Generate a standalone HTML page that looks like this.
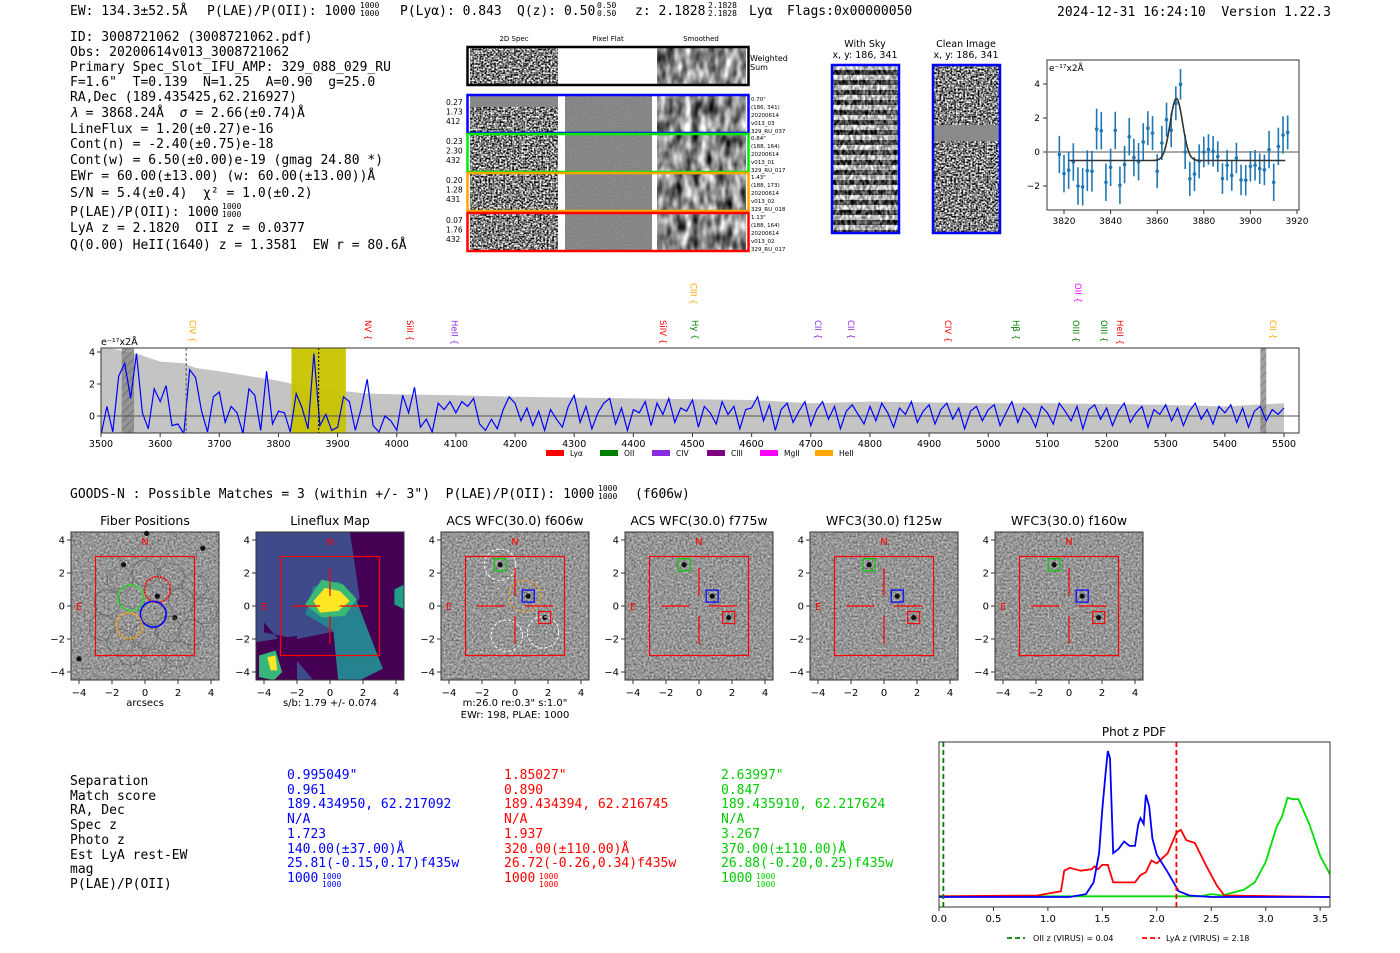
<!DOCTYPE html>
<html><head><meta charset="utf-8">
<style>
body{margin:0;background:#fff;}
#root{position:relative;width:1400px;height:953px;overflow:hidden;background:#fff;font-family:"DejaVu Sans Mono","Liberation Mono",monospace;color:#000;}
.t{position:absolute;white-space:pre;font-size:13px;line-height:13px;}
.fr{position:absolute;font-size:8px;line-height:8px;text-align:center;}
svg{position:absolute;left:0;top:0;}
filter{color-interpolation-filters:sRGB;}
</style></head>
<body>
<div id="root">
<svg id="svg" width="1400" height="953">
<defs>
<filter id="noiseHi" x="0" y="0" width="100%" height="100%" color-interpolation-filters="sRGB"><feTurbulence type="fractalNoise" baseFrequency="0.55" numOctaves="1" seed="3"/><feColorMatrix type="saturate" values="0"/><feComponentTransfer><feFuncR type="linear" slope="3.5" intercept="-1.25"/><feFuncG type="linear" slope="3.5" intercept="-1.25"/><feFuncB type="linear" slope="3.5" intercept="-1.25"/><feFuncA type="linear" slope="0" intercept="1"/></feComponentTransfer></filter>
<filter id="noiseSm" x="0" y="0" width="100%" height="100%" color-interpolation-filters="sRGB"><feTurbulence type="fractalNoise" baseFrequency="0.12 0.06" numOctaves="2" seed="7"/><feColorMatrix type="saturate" values="0"/><feComponentTransfer><feFuncR type="linear" slope="2.0" intercept="-0.45"/><feFuncG type="linear" slope="2.0" intercept="-0.45"/><feFuncB type="linear" slope="2.0" intercept="-0.45"/><feFuncA type="linear" slope="0" intercept="1"/></feComponentTransfer></filter>
<filter id="noiseFlat" x="0" y="0" width="100%" height="100%" color-interpolation-filters="sRGB"><feTurbulence type="fractalNoise" baseFrequency="0.9" numOctaves="1" seed="5"/><feColorMatrix type="saturate" values="0"/><feComponentTransfer><feFuncR type="linear" slope="0.3" intercept="0.38"/><feFuncG type="linear" slope="0.3" intercept="0.38"/><feFuncB type="linear" slope="0.3" intercept="0.38"/><feFuncA type="linear" slope="0" intercept="1"/></feComponentTransfer></filter>
<filter id="noiseSky" x="0" y="0" width="100%" height="100%" color-interpolation-filters="sRGB"><feTurbulence type="fractalNoise" baseFrequency="0.35 0.2" numOctaves="2" seed="11"/><feColorMatrix type="saturate" values="0"/><feComponentTransfer><feFuncR type="linear" slope="3" intercept="-1.0"/><feFuncG type="linear" slope="3" intercept="-1.0"/><feFuncB type="linear" slope="3" intercept="-1.0"/><feFuncA type="linear" slope="0" intercept="1"/></feComponentTransfer></filter>
<filter id="noiseCut" x="0" y="0" width="100%" height="100%" color-interpolation-filters="sRGB"><feTurbulence type="fractalNoise" baseFrequency="0.5" numOctaves="2" seed="2"/><feColorMatrix type="saturate" values="0"/><feComponentTransfer><feFuncR type="linear" slope="1.2" intercept="0.0"/><feFuncG type="linear" slope="1.2" intercept="0.0"/><feFuncB type="linear" slope="1.2" intercept="0.0"/><feFuncA type="linear" slope="0" intercept="1"/></feComponentTransfer></filter>
<pattern id="hatch" width="6" height="6" patternUnits="userSpaceOnUse" patternTransform="rotate(45)"><rect width="6" height="6" fill="#888"/><line x1="0" y1="0" x2="0" y2="6" stroke="#555" stroke-width="1.5"/></pattern>
<pattern id="stripes" width="10" height="10" patternUnits="userSpaceOnUse"><rect width="10" height="5" fill="#000"/><rect y="5" width="10" height="5" fill="#fff"/></pattern>
<clipPath id="specClip"><rect x="101" y="348" width="1198" height="85"/></clipPath>
<clipPath id="pdfClip"><rect x="939" y="742" width="391" height="165"/></clipPath>
</defs>

<g font-family="DejaVu Sans, Liberation Sans, sans-serif" font-size="7">
<text x="514" y="41" text-anchor="middle">2D Spec</text>
<text x="608" y="41" text-anchor="middle">Pixel Flat</text>
<text x="701" y="41" text-anchor="middle">Smoothed</text>
<rect x="470" y="48" width="88" height="36" filter="url(#noiseHi)"/>
<rect x="657" y="48" width="89" height="36" filter="url(#noiseSm)"/>
<rect x="467.5" y="47" width="281" height="38" fill="none" stroke="#000" stroke-width="2.5"/>
<text x="750" y="61" font-size="8">Weighted</text>
<text x="750" y="70" font-size="8">Sum</text>
</g>
<g id="specRows"></g>

<g font-family="DejaVu Sans, Liberation Sans, sans-serif" font-size="9.5">
<text x="865" y="47" text-anchor="middle">With Sky</text>
<text x="865" y="58" text-anchor="middle">x, y: 186, 341</text>
<rect x="832" y="65" width="67" height="168" filter="url(#noiseSky)"/>
<rect x="832" y="65" width="67" height="168" fill="url(#stripes)" fill-opacity="0.45"/>
<rect x="832" y="65" width="67" height="168" fill="none" stroke="#0000ff" stroke-width="2.5"/>
<text x="966" y="47" text-anchor="middle">Clean Image</text>
<text x="966" y="58" text-anchor="middle">x, y: 186, 341</text>
<rect x="933" y="65" width="67" height="168" filter="url(#noiseHi)"/>
<rect x="933" y="125" width="67" height="16" fill="#8a8a8a"/>
<rect x="933" y="65" width="67" height="168" fill="none" stroke="#0000ff" stroke-width="2.5"/>
</g>

<g id="fit"></g>
<g id="spec"></g>
<g id="cuts"></g>
<g id="pdf"></g>
</svg>

<div class="t" style="left:70px;top:5px">EW: 134.3±52.5Å</div>
<div class="t" style="left:207px;top:5px">P(LAE)/P(OII): 1000</div>
<div class="fr" style="left:360px;top:2px">1000<br>1000</div>
<div class="t" style="left:400px;top:5px">P(Lyα): 0.843</div>
<div class="t" style="left:517px;top:5px">Q(z): 0.50</div>
<div class="fr" style="left:597px;top:2px">0.50<br>0.50</div>
<div class="t" style="left:635px;top:5px">z: 2.1828</div>
<div class="fr" style="left:708px;top:2px">2.1828<br>2.1828</div>
<div class="t" style="left:749px;top:5px">Lyα</div>
<div class="t" style="left:787px;top:5px">Flags:0x00000050</div>
<div class="t" style="left:1057px;top:6px">2024-12-31 16:24:10  Version 1.22.3</div>

<div class="t" style="left:70px;top:31px">ID: 3008721062 (3008721062.pdf)</div>
<div class="t" style="left:70px;top:46px">Obs: 20200614v013_3008721062</div>
<div class="t" style="left:70px;top:61px">Primary Spec_Slot_IFU_AMP: 329_088_029_RU</div>
<div class="t" style="left:70px;top:76px">F=1.6"  T=0.139  N=1.25  A=0.90  g=25.0</div>
<div class="t" style="left:70px;top:91px">RA,Dec (189.435425,62.216927)</div>
<div class="t" style="left:70px;top:107px"><i>λ</i> = 3868.24Å  <i>σ</i> = 2.66(±0.74)Å</div>
<div class="t" style="left:70px;top:123px">LineFlux = 1.20(±0.27)e-16</div>
<div class="t" style="left:70px;top:138px">Cont(n) = -2.40(±0.75)e-18</div>
<div class="t" style="left:70px;top:154px">Cont(w) = 6.50(±0.00)e-19 (gmag 24.80 *)</div>
<div class="t" style="left:70px;top:170px">EWr = 60.00(±13.00) (w: 60.00(±13.00))Å</div>
<div class="t" style="left:70px;top:187px">S/N = 5.4(±0.4)  χ² = 1.0(±0.2)</div>
<div class="t" style="left:70px;top:206px">P(LAE)/P(OII): 1000</div>
<div class="fr" style="left:222px;top:203px">1000<br>1000</div>
<div class="t" style="left:70px;top:222px">LyA z = 2.1820  OII z = 0.0377</div>
<div class="t" style="left:70px;top:239px">Q(0.00) HeII(1640) z = 1.3581  EW r = 80.6Å</div>

<div class="t" style="left:70px;top:488px">GOODS-N : Possible Matches = 3 (within +/- 3")  P(LAE)/P(OII): 1000</div>
<div class="fr" style="left:598px;top:485px">1000<br>1000</div>
<div class="t" style="left:635px;top:488px">(f606w)</div>

<div class="t" style="left:70px;top:775px;line-height:14.7px">Separation
Match score
RA, Dec
Spec z
Photo z
Est LyA rest-EW
mag
P(LAE)/P(OII)</div>
<div class="t" style="left:287px;top:769px;line-height:14.7px;color:#0000ff">0.995049"
0.961
189.434950, 62.217092
N/A
1.723
140.00(±37.00)Å
25.81(-0.15,0.17)f435w
1000</div>
<div class="fr" style="left:322px;top:873px;color:#0000ff">1000<br>1000</div>
<div class="t" style="left:504px;top:769px;line-height:14.7px;color:#ff0000">1.85027"
0.890
189.434394, 62.216745
N/A
1.937
320.00(±110.00)Å
26.72(-0.26,0.34)f435w
1000</div>
<div class="fr" style="left:539px;top:873px;color:#ff0000">1000<br>1000</div>
<div class="t" style="left:721px;top:769px;line-height:14.7px;color:#00cc00">2.63997"
0.847
189.435910, 62.217624
N/A
3.267
370.00(±110.00)Å
26.88(-0.20,0.25)f435w
1000</div>
<div class="fr" style="left:756px;top:873px;color:#00cc00">1000<br>1000</div>
</div>

<script>
const fitWave = [3818,3820,3822,3824,3826,3828,3830,3832,3834,3836,3838,3840,3842,3844,3846,3848,3850,3852,3854,3856,3858,3860,3862,3864,3866,3868,3870,3872,3874,3876,3878,3880,3882,3884,3886,3888,3890,3892,3894,3896,3898,3900,3902,3904,3906,3908,3910,3912,3914,3916];
const fitFlux = [-0.15,-1.27,-1.07,-0.59,-2.0,-2.05,-1.1,-1.13,1.35,1.25,-1.78,-0.9,1.27,-1.95,-0.74,0.9,-0.33,-0.57,0.59,1.4,1.11,-1.13,0.53,1.9,1.29,2.87,3.98,0.0,-1.58,-1.3,-0.55,0.0,0.15,0.04,-0.27,-1.56,-0.78,-1.38,-0.35,-1.64,-1.66,-0.84,-0.78,-0.98,-1.05,0.14,-1.78,0.33,1.0,1.15];
const fitErr = [1.1,1.1,1.1,1.1,1.1,1.1,1.2,1.2,1.2,1.1,1.1,1.1,1.1,1.1,1.1,1.1,1.1,1.1,1.1,1.0,1.0,1.0,1.0,1.0,1.0,1.0,0.9,1.0,1.0,1.0,1.0,0.9,0.9,0.9,0.9,0.9,0.9,0.9,0.9,0.9,0.9,0.9,0.9,0.9,0.9,1.1,1.1,1.1,1.1,1.0];
const fitModel = {center:3868.24, sigma:2.66, amp:3.65, base:-0.5};
const fitXTicks = [3820,3840,3860,3880,3900,3920];
const fitYTicks = [-2,0,2,4];

const specWaveStart = 3500, specWaveStep = 10;
const specFlux = [-1.2,0.6,-1.0,2.5,3.3,1.1,3.9,0.2,-0.8,1.7,
0.9,1.9,-0.6,-0.5,-1.1,2.9,2.4,0.3,-1.0,1.2,
1.5,-0.4,0.6,0.2,-1.1,1.7,1.3,-0.9,2.8,-0.5,
0.3,0.2,-1.0,1.4,0.5,-0.8,3.9,-0.6,0.1,-0.9,
-0.7,1.2,0.9,-0.9,0.5,2.3,-0.6,-1.0,0.0,-0.3,
-0.9,1.3,0.2,1.8,-0.7,-0.2,-1.0,0.8,0.4,0.9,
0.2,0.9,0.6,1.1,-0.5,-0.9,-0.2,-0.8,0.4,1.2,
0.8,-0.3,0.5,-0.6,0.3,-0.9,0.4,-0.2,-0.7,0.6,
1.3,-0.4,0.6,-0.8,0.2,0.8,1.1,-0.5,0.5,-0.9,
0.4,0.2,0.9,-0.6,0.8,0.1,1.1,-0.4,0.5,0.3,
1.0,-0.7,0.6,0.2,-0.5,0.9,0.1,0.6,-0.8,0.4,
0.5,1.2,-0.3,0.7,-0.9,0.4,0.8,-0.4,0.3,0.9,
-0.6,0.4,0.9,-0.2,0.6,-0.8,0.3,0.7,0.1,-0.5,
0.6,-0.3,0.8,0.2,-0.7,0.5,0.1,0.9,-0.4,0.3,
0.7,-0.5,0.4,0.8,-0.2,0.5,-0.8,0.3,0.6,-0.3,
0.4,0.7,-0.6,0.2,0.9,-0.4,0.5,0.1,-0.7,0.6,
0.2,-0.5,0.8,0.3,-0.3,0.6,-0.8,0.4,0.7,-0.2,
0.5,-0.6,0.3,0.8,-0.4,0.2,0.6,-0.7,0.4,0.1,
0.7,-0.3,0.5,-0.6,0.3,0.8,-0.2,0.4,-0.5,0.6,
0.2,0.7,-0.4,0.5,-0.7,0.3,0.6,-0.3,0.4,0.1,
0.5];
const errWave = [3500,3520,3560,3600,3640,3660,3700,3750,3800,3850,3900,3950,4000,4100,4200,4300,4400,4500,4600,4700,4800,4900,5000,5100,5200,5300,5400,5500];
const errFlux = [4.2,4.2,3.9,3.4,3.3,3.0,2.8,2.5,2.2,1.8,1.6,1.4,1.35,1.3,1.2,1.15,1.1,1.05,1.0,0.8,0.9,0.85,0.8,0.8,0.75,0.7,0.6,0.8];
const specXTicks = [3500,3600,3700,3800,3900,4000,4100,4200,4300,4400,4500,4600,4700,4800,4900,5000,5100,5200,5300,5400,5500];
const specYTicks = [0,2,4];
const lineNames = ["CIV","NV","SiII","HeII","SiIV","Hy","CIII","CII","CII","CIV","Hβ","OIII","OII","OIII","HeII","CII"];
const lineWaves = [3655,3951,4022,4098,4450,4504,4502,4712,4768,4932,5047,5148,5152,5196,5223,5481];
const lineColors = ["#ffa500","#ff0000","#ff0000","#8a2be2","#ff0000","#008000","#ffa500","#8a2be2","#8a2be2","#ff0000","#008000","#008000","#ff00ff","#008000","#ff0000","#ffa500"];
const lineHigh = [0,0,0,0,0,0,1,0,0,0,0,0,1,0,0,0];
const legendNames = ["Lyα","OII","CIV","CIII","MgII","HeII"];
const legendColors = ["#ff0000","#008000","#8a2be2","#800080","#ff00ff","#ffa500"];

const pdfBlueZ = [0,1.2,1.35,1.42,1.47,1.5,1.53,1.55,1.57,1.6,1.65,1.7,1.75,1.8,1.83,1.85,1.88,1.9,1.93,1.96,2.0,2.1,2.2,2.3,2.5,3.6];
const pdfBlueP = [0,0,0.02,0.1,0.3,0.6,0.85,1.0,0.95,0.3,0.33,0.38,0.35,0.35,0.5,0.54,0.5,0.7,0.62,0.4,0.29,0.17,0.04,0.01,0,0];
const pdfRedZ = [0,0.9,1.05,1.12,1.15,1.2,1.3,1.4,1.43,1.46,1.5,1.55,1.6,1.7,1.8,1.85,1.9,1.95,2.0,2.1,2.18,2.22,2.27,2.35,2.45,2.55,2.62,3.6];
const pdfRedP = [0.005,0.01,0.03,0.04,0.18,0.2,0.18,0.19,0.21,0.19,0.22,0.22,0.1,0.1,0.1,0.15,0.17,0.25,0.23,0.3,0.44,0.46,0.39,0.37,0.22,0.08,0.01,0];
const pdfGreenZ = [0,2.4,2.5,2.6,2.8,2.9,3.0,3.1,3.15,3.2,3.25,3.3,3.4,3.5,3.58,3.6];
const pdfGreenP = [0.005,0.005,0.02,0.01,0.05,0.1,0.24,0.48,0.55,0.68,0.67,0.67,0.5,0.28,0.17,0.14];
const pdfXTicks = [0.0,0.5,1.0,1.5,2.0,2.5,3.0,3.5];
const oiiZ = 0.04, lyaZ = 2.18;

const cutTitles = ["Fiber Positions","Lineflux Map","ACS WFC(30.0) f606w","ACS WFC(30.0) f775w","WFC3(30.0) f125w","WFC3(30.0) f160w"];
const cutTicks = [-4,-2,0,2,4];
const specRowInfo = [["0.27","1.73","412"],["0.23","2.30","432"],["0.20","1.28","431"],["0.07","1.76","432"]];
const specRowMeta = [["0.70\"","(186, 341)","20200614","v013_03","329_RU_037"],["0.84\"","(188, 164)","20200614","v013_01","329_RU_017"],["1.43\"","(188, 173)","20200614","v013_02","329_RU_018"],["1.13\"","(188, 164)","20200614","v013_02","329_RU_017"]];
const specRowColors = ["#0000ff","#00ee00","#ffa500","#ff0000"];

const NS='http://www.w3.org/2000/svg';
function mk(parent, tag, attrs, txt){const e=document.createElementNS(NS,tag);for(const k in attrs)e.setAttribute(k,attrs[k]);if(txt!==undefined)e.textContent=txt;parent.appendChild(e);return e;}
const SANS="DejaVu Sans, Liberation Sans, sans-serif";

(function(){
 const g=document.getElementById('specRows');
 const tops=[95,134,173,213];
 for(let i=0;i<4;i++){
  const y=tops[i], h=38;
  let e=mk(g,'rect',{x:470,y:y+1,width:88,height:h-2,filter:'url(#noiseHi)'});
  
  
  e=mk(g,'rect',{x:565,y:y+1,width:87,height:h-2,filter:'url(#noiseFlat)'});
  
  
  e=mk(g,'rect',{x:657,y:y+1,width:89,height:h-2,filter:'url(#noiseSm)'});
  
  
  if(i===0){e=mk(g,'rect',{x:470,y:y+1,width:88,height:11,fill:'#888'});
   
   }
  e=mk(g,'rect',{x:467.5,y:y,width:281,height:h,fill:'none',stroke:specRowColors[i],'stroke-width':2.5});
  
  
  for(let k=0;k<3;k++){
   e=mk(g,'text',{x:446,y:y+10+k*9.5,'font-size':7.5,'font-family':SANS},specRowInfo[i][k]);
   
   
  }
  for(let k=0;k<5;k++){
   e=mk(g,'text',{x:751,y:y+6+k*8,'font-size':5.5,'font-family':SANS},specRowMeta[i][k]);
   
   
  }
 }
})();

(function(){
 const g=document.getElementById('fit');
 const fx=w=>1064+(w-3820)*2.33, fy=v=>152-v*17;
 let e=mk(g,'rect',{x:1047,y:60,width:252,height:150,fill:'#fff',stroke:'#333','stroke-width':1});
 
 
 e=mk(g,'line',{x1:1047,x2:1299,y1:fy(0),y2:fy(0),stroke:'#777','stroke-width':1.2});
 
 
 fitXTicks.forEach(t=>{
  e=mk(g,'line',{x1:fx(t),x2:fx(t),y1:210,y2:214,stroke:'#333'});
  
  
  e=mk(g,'text',{x:fx(t),y:224,'font-size':9,'text-anchor':'middle','font-family':SANS},t);
  
  
 });
 fitYTicks.forEach(t=>{
  e=mk(g,'line',{x1:1043,x2:1047,y1:fy(t),y2:fy(t),stroke:'#333'});
  
  
  e=mk(g,'text',{x:1040,y:fy(t)+3,'font-size':9,'text-anchor':'end','font-family':SANS},t===-2?'−2':t);
  
  
 });
 e=mk(g,'text',{x:1049,y:71,'font-size':9,'font-family':SANS},'e⁻¹⁷x2Å');
 
 
 fitWave.forEach((w,i)=>{
  e=mk(g,'line',{x1:fx(w),x2:fx(w),y1:fy(fitFlux[i]-fitErr[i]),y2:fy(fitFlux[i]+fitErr[i]),stroke:'#1f77b4','stroke-width':1.6});
  
  
  e=mk(g,'circle',{cx:fx(w),cy:fy(fitFlux[i]),r:1.8,fill:'#1f77b4'});
  
  
 });
 let d='';
 for(let w=3822;w<=3915;w+=0.5){const v=fitModel.base+fitModel.amp*Math.exp(-0.5*Math.pow((w-fitModel.center)/fitModel.sigma,2));d+=(d?'L':'M')+fx(w).toFixed(1)+','+fy(v).toFixed(1);}
 e=mk(g,'path',{d:d,fill:'none',stroke:'#333','stroke-width':1.6});
 
 
})();

(function(){
 const g=document.getElementById('spec');
 const sx=w=>101+(w-3500)*0.5915, sy=v=>416-v*16;
 let e;
 const c=mk(g,'g',{'clip-path':'url(#specClip)'});
 let d='M'+sx(errWave[0])+',433';
 errWave.forEach((w,i)=>{d+='L'+sx(w).toFixed(1)+','+sy(errFlux[i]).toFixed(1);});
 d+='L'+sx(errWave[errWave.length-1])+',433Z';
 e=mk(c,'path',{d:d,fill:'#c4c4c4'});
 
 
 e=mk(c,'rect',{x:sx(3822),y:348,width:sx(3914)-sx(3822),height:85,fill:'#c8c400','fill-opacity':0.95});
 
 
 e=mk(c,'rect',{x:sx(3535),y:348,width:sx(3556)-sx(3535),height:85,fill:'url(#hatch)','fill-opacity':0.8});
 
 
 e=mk(c,'rect',{x:sx(5460),y:348,width:sx(5470)-sx(5460),height:85,fill:'url(#hatch)','fill-opacity':0.8});
 
 
 e=mk(c,'line',{x1:101,x2:1299,y1:sy(0),y2:sy(0),stroke:'#555','stroke-width':1});
 
 
 d='';
 specFlux.forEach((v,i)=>{const w=specWaveStart+i*specWaveStep;d+=(d?'L':'M')+sx(w).toFixed(1)+','+sy(v).toFixed(1);});
 e=mk(c,'path',{d:d,fill:'none',stroke:'#0000ff','stroke-width':1.2});
 
 
 e=mk(c,'line',{x1:sx(3644),x2:sx(3644),y1:348,y2:433,stroke:'#555','stroke-dasharray':'3,2'});
 
 
 e=mk(c,'line',{x1:sx(3868),x2:sx(3868),y1:348,y2:433,stroke:'#000','stroke-dasharray':'2,2'});
 
 
 e=mk(g,'rect',{x:101,y:348,width:1198,height:85,fill:'none',stroke:'#333','stroke-width':1});
 
 
 specXTicks.forEach(t=>{
  e=mk(g,'line',{x1:sx(t),x2:sx(t),y1:433,y2:437,stroke:'#333'});
  
  
  e=mk(g,'text',{x:sx(t),y:447,'font-size':9.5,'text-anchor':'middle','font-family':SANS},t);
  
  
 });
 specYTicks.forEach(t=>{
  e=mk(g,'line',{x1:97,x2:101,y1:sy(t),y2:sy(t),stroke:'#333'});
  
  
  e=mk(g,'text',{x:95,y:sy(t)+3.5,'font-size':9.5,'text-anchor':'end','font-family':SANS},t);
  
  
 });
 e=mk(g,'text',{x:101,y:345,'font-size':9.5,'font-family':SANS},'e⁻¹⁷x2Å');
 
 
 lineNames.forEach((n,i)=>{
  const x=sx(lineWaves[i])-3, y=lineHigh[i]?283:320;
  e=mk(g,'text',{x:x,y:y,'font-size':8.5,fill:lineColors[i],'font-family':SANS,transform:'rotate(90 '+x+' '+y+')'},n+' {');
  
  
 });
 const lx=[546,600,652,707,760,815];
 legendNames.forEach((n,i)=>{
  e=mk(g,'rect',{x:lx[i],y:450,width:18,height:6,fill:legendColors[i]});
  
  
  e=mk(g,'text',{x:lx[i]+24,y:456,'font-size':7.5,'font-family':SANS},n);
  
  
 });
})();

(function(){
 const g=document.getElementById('cuts');
 const X0=[71,256,441,625,810,995];
 let e;
 for(let p=0;p<6;p++){
  const x0=X0[p], y0=532, W=148, cx=x0+74, cy=y0+74, s=16.5;
  const ux=v=>cx+v*s, uy=v=>cy-v*s;
  e=mk(g,'text',{x:cx,y:525,'font-size':12.5,'text-anchor':'middle','font-family':SANS},cutTitles[p]);
  
  
  if(p===1){
   e=mk(g,'rect',{x:x0,y:y0,width:W,height:W,fill:'#3e4a89'});
   
   
   const polys=[
    ['#440154',[[1.2,4.5],[4.5,4.5],[4.5,-4.5],[-1,-4.5],[-4,-1],[-4,-1.6],[-2,-2],[0.5,-1.5],[1.8,0.5]]],
    ['#440154',[[-4.5,-2.2],[-2,-1.8],[-2,-4.5],[-4.5,-4.5]]],
    ['#26828e',[[0.5,1.5],[1.5,0.6],[3.2,-3.8],[1.8,-4.5],[0.5,-4.5],[0.2,-1.5],[-1.5,-0.5],[-1,1.2]]],
    ['#3aba76',[[-0.5,1.6],[0.8,1.3],[1.6,0.4],[0.9,-0.6],[-0.5,-0.7],[-1.5,0.1]]],
    ['#fde725',[[-0.3,1.1],[0.6,0.9],[1.2,0.3],[0.5,-0.3],[-0.6,-0.4],[-1.0,0.3]]],
    ['#35b779',[[-4.3,-3.0],[-3.3,-2.7],[-2.9,-4.0],[-3.4,-4.5],[-4.3,-4.3]]],
    ['#fde725',[[-3.8,-3.1],[-3.3,-3.0],[-3.2,-3.9],[-3.6,-3.9]]],
    ['#1f9e89',[[3.9,1.0],[4.5,1.3],[4.5,-0.2],[3.9,0.1]]]
   ];
   polys.forEach(pp=>{
    e=mk(g,'polygon',{points:pp[1].map(q=>ux(Math.max(-4.5,Math.min(4.5,q[0])))+','+uy(Math.max(-4.5,Math.min(4.5,q[1])))).join(' '),fill:pp[0]});
    
    
   });
  } else {
   e=mk(g,'rect',{x:x0,y:y0,width:W,height:W,filter:'url(#noiseCut)'});
   
   
   e=mk(g,'rect',{x:x0,y:y0,width:W,height:W,fill:'#909090','fill-opacity':0.3});
   
   
  }
  e=mk(g,'rect',{x:x0,y:y0,width:W,height:W,fill:'none',stroke:'#333'});
  
  
  cutTicks.forEach(t=>{
   e=mk(g,'line',{x1:ux(t),x2:ux(t),y1:y0+W,y2:y0+W+4,stroke:'#333'});
   
   
   e=mk(g,'text',{x:ux(t),y:696,'font-size':10,'text-anchor':'middle','font-family':SANS},t<0?'−'+(-t):t);
   
   
   e=mk(g,'line',{x1:x0-4,x2:x0,y1:uy(t),y2:uy(t),stroke:'#333'});
   
   
   e=mk(g,'text',{x:x0-6,y:uy(t)+3.5,'font-size':10,'text-anchor':'end','font-family':SANS},t<0?'−'+(-t):t);
   
   
  });
  const srcs = p===0?[[-1.3,2.5],[0.75,0.6],[1.8,-0.7],[3.5,3.5],[-4,-3.2],[0.1,4.4]]:(p===1?[]:[[-0.9,2.5],[0.8,0.6],[1.8,-0.7]]);
  srcs.forEach(q=>{
   e=mk(g,'circle',{cx:ux(q[0]),cy:uy(q[1]),r:2.6,fill:'#111'});
   
   
  });
  if(p===0){
   const hex=[[-1.5,1.6],[0,2.0],[1.6,1.8],[3.0,1.2],[-2.3,0.2],[2.2,0.3],[3.6,-0.3],[-2.6,-1.3],[-1.5,-2.2],[0,-1.8],[1.4,-1.4],[2.8,-1.6],[-0.9,-2.8],[0.5,-3.4],[2.0,-2.9]];
   hex.forEach(q=>{
    e=mk(g,'circle',{cx:ux(q[0]),cy:uy(q[1]),r:0.78*s,fill:'none',stroke:'#666','stroke-width':0.7});
    
    
   });
   const fc=[[0.75,1.0,'#ff0000',1],[-0.85,0.5,'#00ee00',1],[0.5,-0.5,'#0000ff',0],[-0.95,-1.2,'#ffa500',1]];
   fc.forEach(q=>{
    e=mk(g,'circle',{cx:ux(q[0]),cy:uy(q[1]),r:0.78*s,fill:'none',stroke:q[2],'stroke-width':1.6,'stroke-dasharray':q[3]?'2,1':'none'});
    
    
   });
   e=mk(g,'text',{x:cx,y:706,'font-size':10,'text-anchor':'middle','font-family':SANS},'arcsecs');
   
   
  }
  if(p===1){
   e=mk(g,'text',{x:cx,y:706,'font-size':10,'text-anchor':'middle','font-family':SANS},'s/b: 1.79 +/- 0.074');
   
   
  }
  if(p>=2){
   if(p===2){
    [[-0.9,2.5,'#ffffff'],[-0.5,-1.8,'#ffffff'],[1.7,-1.6,'#ffffff'],[0.6,0.6,'#ffa500']].forEach(q=>{
     e=mk(g,'circle',{cx:ux(q[0]),cy:uy(q[1]),r:0.95*s,fill:'none',stroke:q[2],'stroke-width':1,'stroke-dasharray':'3,2'});
     
     
    });
    e=mk(g,'text',{x:cx,y:706,'font-size':10,'text-anchor':'middle','font-family':SANS},'m:26.0  re:0.3"  s:1.0"');
    
    
    e=mk(g,'text',{x:cx,y:718,'font-size':10,'text-anchor':'middle','font-family':SANS},'EWr: 198, PLAE: 1000');
    
    
   }
   [[-0.9,2.5,'#00cc00'],[0.8,0.6,'#0000ff'],[1.8,-0.7,'#ff0000']].forEach(q=>{
    e=mk(g,'rect',{x:ux(q[0])-6,y:uy(q[1])-6,width:12,height:12,fill:'none',stroke:q[2],'stroke-width':1.2});
    
    
   });
  }
  e=mk(g,'rect',{x:ux(-3),y:uy(3),width:6*s,height:6*s,fill:'none',stroke:'#ff0000','stroke-width':1.2});
  
  
  if(p>=1){
   [[-2.3,0,-0.6,0],[0.6,0,2.3,0],[0,2.3,0,0.6],[0,-0.6,0,-2.3]].forEach(q=>{
    e=mk(g,'line',{x1:ux(q[0]),y1:uy(q[1]),x2:ux(q[2]),y2:uy(q[3]),stroke:'#ff0000','stroke-width':1.2});
    
    
   });
  }
  e=mk(g,'text',{x:cx,y:uy(3.7),'font-size':10,'text-anchor':'middle',fill:'#ff0000','font-family':SANS},'N');
  
  
  e=mk(g,'text',{x:ux(-4),y:cy+4,'font-size':10,'text-anchor':'middle',fill:'#ff0000','font-family':SANS},'E');
  
  
 }
})();

(function(){
 const g=document.getElementById('pdf');
 const px=z=>939+z*108.9, py=v=>897-v*146;
 let e=mk(g,'text',{x:1134,y:736,'font-size':12,'text-anchor':'middle','font-family':SANS},'Phot z PDF');
 
 
 const c=mk(g,'g',{'clip-path':'url(#pdfClip)'});
 const series=[[pdfGreenZ,pdfGreenP,'#00dd00','pdf-green-curve'],[pdfRedZ,pdfRedP,'#ff0000','pdf-red-curve'],[pdfBlueZ,pdfBlueP,'#0000ff','pdf-blue-curve']];
 series.forEach(sr=>{
  let d='';sr[0].forEach((z,i)=>{d+=(d?'L':'M')+px(z).toFixed(1)+','+py(sr[1][i]).toFixed(1);});
  e=mk(c,'path',{d:d,fill:'none',stroke:sr[2],'stroke-width':1.8});
  
  
 });
 e=mk(c,'line',{x1:px(oiiZ),x2:px(oiiZ),y1:742,y2:907,stroke:'#008000','stroke-width':1.8,'stroke-dasharray':'5,3'});
 
 
 e=mk(c,'line',{x1:px(lyaZ),x2:px(lyaZ),y1:742,y2:907,stroke:'#ff0000','stroke-width':1.8,'stroke-dasharray':'5,3'});
 
 
 e=mk(g,'rect',{x:939,y:742,width:391,height:165,fill:'none',stroke:'#333'});
 
 
 pdfXTicks.forEach(t=>{
  e=mk(g,'line',{x1:px(t),x2:px(t),y1:907,y2:911,stroke:'#333'});
  
  
  e=mk(g,'text',{x:px(t),y:922,'font-size':10,'text-anchor':'middle','font-family':SANS},t.toFixed(1));
  
  
 });
 e=mk(g,'line',{x1:1007,x2:1025,y1:938,y2:938,stroke:'#008000','stroke-width':1.8,'stroke-dasharray':'5,3'});
 
 
 e=mk(g,'text',{x:1033,y:941,'font-size':8,'font-family':SANS},'OII z (VIRUS) = '+oiiZ.toFixed(2));
 
 
 e=mk(g,'line',{x1:1142,x2:1160,y1:938,y2:938,stroke:'#ff0000','stroke-width':1.8,'stroke-dasharray':'5,3'});
 
 
 e=mk(g,'text',{x:1166,y:941,'font-size':8,'font-family':SANS},'LyA z (VIRUS) = '+lyaZ.toFixed(2));
 
 
})();
</script>
</body></html>
